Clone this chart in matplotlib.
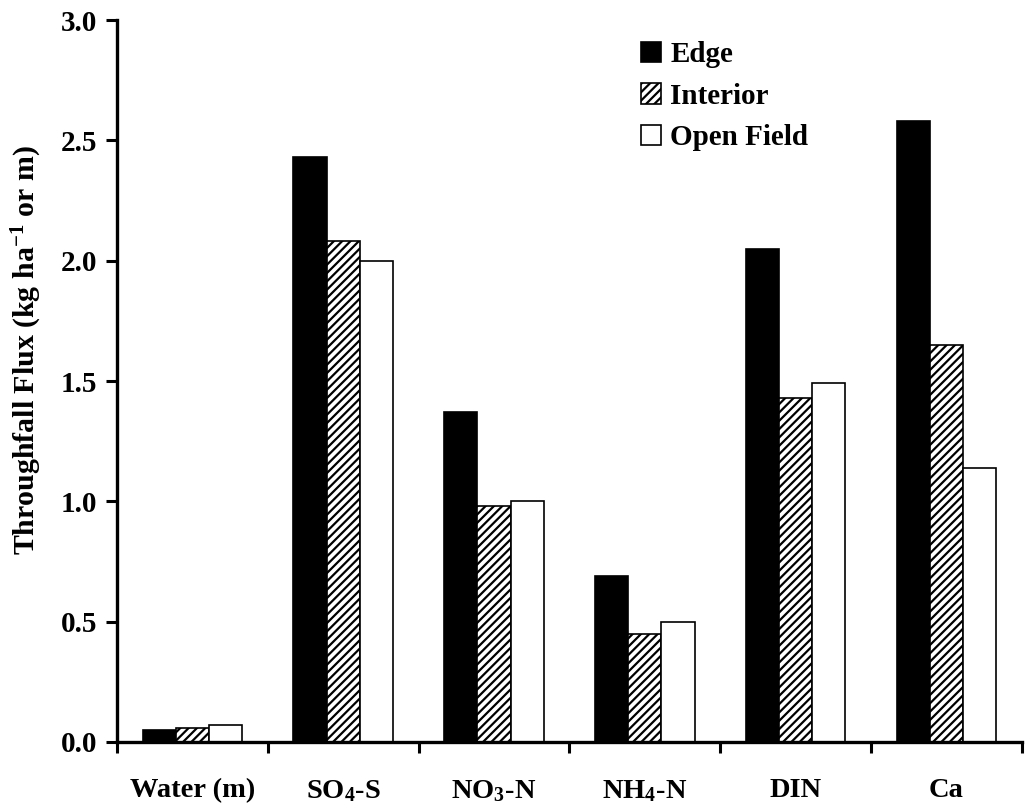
import numpy as np
import matplotlib
matplotlib.use('Agg')
import matplotlib.pyplot as plt

# values
categories = ['Water (m)', 'SO$_4$-S', 'NO$_3$-N', 'NH$_4$-N', 'DIN', 'Ca']
edge = [0.05, 2.43, 1.37, 0.69, 2.05, 2.58]
interior = [0.06, 2.08, 0.98, 0.45, 1.43, 1.65]
open_field = [0.07, 2.00, 1.00, 0.50, 1.49, 1.14]
yticks = [0.0, 0.5, 1.0, 1.5, 2.0, 2.5, 3.0]

plt.rcParams['font.family'] = 'Liberation Serif'
plt.rcParams['font.weight'] = 'bold'
plt.rcParams['axes.labelweight'] = 'bold'
plt.rcParams['mathtext.fontset'] = 'custom'
plt.rcParams['mathtext.rm'] = 'Liberation Serif:bold'
plt.rcParams['mathtext.default'] = 'rm'
plt.rcParams['hatch.linewidth'] = 1.6

fig = plt.figure(figsize=(10.27, 8.05), dpi=100)
ax = fig.add_axes([0.1139, 0.0783, 0.995 - 0.1139, 0.975 - 0.0783])

x = np.arange(len(categories)) + 0.5
w = 0.22
ax.bar(x - w, edge, w, color='black', edgecolor='black', linewidth=1.2, label='Edge')
ax.bar(x, interior, w, color='white', edgecolor='black', hatch='////', linewidth=1.2, label='Interior')
ax.bar(x + w, open_field, w, color='white', edgecolor='black', linewidth=1.2, label='Open Field')

ax.set_xlim(0, len(categories))
ax.set_ylim(0, 3.0)
ax.set_yticks(yticks)
ax.set_yticklabels(['%.1f' % v for v in yticks])
ax.set_xticks(np.arange(len(categories) + 1))
ax.set_xticklabels([])
ax.set_xticks(x, minor=True)
ax.set_xticklabels(categories, minor=True)
ax.tick_params(axis='x', which='minor', length=0, pad=26, labelsize=20.5)
ax.tick_params(axis='x', which='major', length=8, width=2.2, direction='out')
ax.tick_params(axis='y', length=8, width=2.2, direction='out', labelsize=21, pad=6)

for s in ['top', 'right']:
    ax.spines[s].set_visible(False)
for s in ['left', 'bottom']:
    ax.spines[s].set_linewidth(2.4)

ax.set_ylabel('Throughfall Flux (kg ha$^{-1}$ or m)', fontsize=21.5)
ax.yaxis.set_label_coords(-0.081, 0.543)

leg = ax.legend(loc='upper left', bbox_to_anchor=(0.55, 1.007), frameon=False,
                fontsize=21, handlelength=0.7, handleheight=0.7,
                handletextpad=0.3, labelspacing=0.5)

fig.savefig('out.png', dpi=100)
plt.close()
